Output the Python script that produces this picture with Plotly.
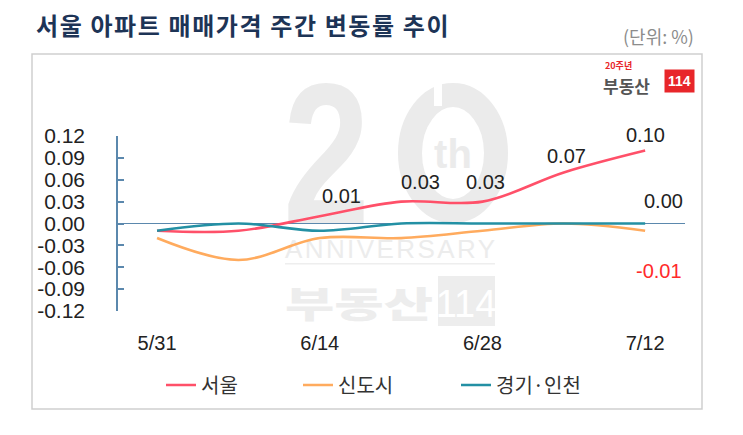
import base64
import plotly.graph_objects as go

# ---------------- data ----------------
dates = ["5/31", "6/7", "6/14", "6/21", "6/28", "7/5", "7/12"]
seoul = [-0.01, -0.01, 0.01, 0.03, 0.03, 0.07, 0.10]
new_town = [-0.02, -0.05, -0.02, -0.02, -0.01, 0.00, -0.01]
gyeonggi = [-0.01, 0.00, -0.01, 0.00, 0.00, 0.00, 0.00]
series_names = ["서울", "신도시", "경기·인천"]
y_ticks = [0.12, 0.09, 0.06, 0.03, 0.00, -0.03, -0.06, -0.09, -0.12]
title_text = "서울 아파트 매매가격 주간 변동률 추이"
unit_text = "(단위: %)"

# ---------------- layout geometry (pixels) ----------------
W, H = 743, 435
L, R, T, B = 118, 685, 136, 311  # plot area


def px(x):
    return (x - L) / (R - L)


def py(y):
    return (B - y) / (B - T)


NUM = "Arial, 'Liberation Sans', 'Noto Sans CJK KR', sans-serif"
KR = "'Malgun Gothic', 'Noto Sans CJK KR', sans-serif"

RED = "#ff5069"
ORANGE = "#ffab5e"
TEAL = "#2390a4"
AXIS = "#5b88ad"

xs = list(range(len(dates)))

legend_x = [161, 298, 456]
legend_ids = ["legend", "legend2", "legend3"]

fig = go.Figure()
for name, vals, col, lid in zip(series_names, [seoul, new_town, gyeonggi], [RED, ORANGE, TEAL], legend_ids):
    fig.add_trace(go.Scatter(
        x=xs, y=vals, name=name, mode="lines", legend=lid,
        line=dict(color=col, width=2.6, shape="spline", smoothing=1.0),
        hoverinfo="skip",
    ))

# ---------------- watermark (below data) ----------------
wx0, wy0, ww, wh = 270, 75, 250, 260
svg = f"""<svg xmlns='http://www.w3.org/2000/svg' width='{ww}' height='{wh}' viewBox='{wx0} {wy0} {ww} {wh}'>
<g fill='#ebebeb' font-family='Liberation Sans, Arial, sans-serif' font-weight='bold'>
<text x='283' y='223' font-size='200' transform='translate(283 0) scale(0.78 1) translate(-283 0)'>2</text>
<ellipse cx='453' cy='153' rx='43' ry='58' fill='none' stroke='#ebebeb' stroke-width='24'/>
<rect x='434' y='80' width='8' height='26' fill='white'/>
<text x='453' y='168' font-size='40' text-anchor='middle'>th</text>
<text x='285' y='258' font-size='26' font-weight='normal' textLength='210' lengthAdjust='spacing' fill='#ececec'>ANNIVERSARY</text>
<rect x='285' y='263' width='210' height='1.5' fill='#eeeeee'/>
<text x='285' y='318' font-size='36' font-family='Noto Sans CJK KR' font-weight='900' fill='#ededed' textLength='148' lengthAdjust='spacingAndGlyphs'>부동산</text>
<rect x='438' y='276' width='57' height='50' fill='#ededed'/>
<text x='466' y='317' font-size='38' text-anchor='middle' fill='white' font-weight='normal'>114</text>
</g></svg>"""
src = "data:image/svg+xml;base64," + base64.b64encode(svg.encode("utf-8")).decode()

annotations = []

# data labels
lab_shift = {2: (22, 20), 3: (19, 20), 4: (3, 20), 5: (3, 16), 6: (0, 16)}
for i, (dx, dy) in lab_shift.items():
    annotations.append(dict(x=xs[i], y=seoul[i], text=f"{seoul[i]:.2f}", showarrow=False,
                            xshift=dx, yshift=dy, font=dict(family=NUM, size=20, color="#222222")))
annotations.append(dict(x=xs[-1], y=gyeonggi[-1], text=f"{gyeonggi[-1]:.2f}", showarrow=False,
                        xshift=18, yshift=23, font=dict(family=NUM, size=20, color="#222222")))
annotations.append(dict(x=xs[-1], y=new_town[-1], text=f"{new_town[-1]:.2f}", showarrow=False,
                        xshift=14, yshift=-40, font=dict(family=NUM, size=20, color="#ff2a2a")))

# title & unit
annotations.append(dict(xref="paper", yref="paper", x=px(34), y=py(25), xanchor="left", yanchor="middle",
                        text=f"<b><span style='letter-spacing:1.6px'>{title_text}</span></b>", showarrow=False,
                        font=dict(family=KR, size=24, color="#1d3456")))
annotations.append(dict(xref="paper", yref="paper", x=px(696), y=py(36), xanchor="right", yanchor="middle",
                        text=unit_text, showarrow=False,
                        font=dict(family=KR, size=18, color="#8c8c8c")))

# logo (top right)
annotations.append(dict(xref="paper", yref="paper", x=px(603), y=py(65), xanchor="left", yanchor="middle",
                        text="<b>20주년</b>", showarrow=False,
                        font=dict(family=KR, size=9, color="#e8262a")))
annotations.append(dict(xref="paper", yref="paper", x=px(601), y=py(85), xanchor="left", yanchor="middle",
                        text="<b>부동산</b>", showarrow=False,
                        font=dict(family=KR, size=17, color="#555555")))
annotations.append(dict(xref="paper", yref="paper", x=px(679), y=py(81), xanchor="center", yanchor="middle",
                        text="<b>114</b>", showarrow=False, bgcolor="#e8262a", borderpad=3,
                        font=dict(family=NUM, size=14, color="white")))

legend_common = dict(orientation="h", yanchor="middle", font=dict(family=KR, size=20, color="#333333"),
                     bgcolor="rgba(0,0,0,0)", itemclick=False, itemdoubleclick=False, xanchor="left")

fig.update_layout(
    width=W, height=H,
    margin=dict(l=L, r=W - R, t=T, b=H - B, pad=0),
    paper_bgcolor="white",
    plot_bgcolor="rgba(0,0,0,0)",
    showlegend=True,
    legend=dict(x=px(legend_x[0]), y=py(385), **legend_common),
    legend2=dict(x=px(legend_x[1]), y=py(385), **legend_common),
    legend3=dict(x=px(legend_x[2]), y=py(385), **legend_common),
    xaxis=dict(range=[-0.48, 6.49], tickvals=xs[::2], ticktext=dates[::2],
               showgrid=False, zeroline=False, showline=False, ticks="",
               tickfont=dict(family=NUM, size=20, color="#222222"),
               ticklabelstandoff=18, fixedrange=True),
    yaxis=dict(range=[-0.12, 0.12], tickvals=y_ticks, ticktext=[f"{v:.2f}" for v in y_ticks],
               showgrid=False, zeroline=True, zerolinecolor=AXIS, zerolinewidth=1.2,
               showline=True, linecolor=AXIS, linewidth=1.5,
               ticks="inside", ticklen=6, tickcolor=AXIS, tickwidth=1.5,
               tickfont=dict(family=NUM, size=21, color="#222222"),
               ticklabelstandoff=27, fixedrange=True),
    annotations=annotations,
    images=[dict(source=src, xref="paper", yref="paper", x=px(wx0), y=py(wy0),
                 sizex=ww / (R - L), sizey=wh / (B - T), xanchor="left", yanchor="top",
                 sizing="stretch", layer="below")],
    shapes=[dict(type="rect", xref="paper", yref="paper", x0=px(32), x1=px(702), y0=py(409), y1=py(54),
                 line=dict(color="#cfcfcf", width=1.5), fillcolor="rgba(0,0,0,0)", layer="below")],
)

fig.write_html("out.html", config={"displayModeBar": False})
